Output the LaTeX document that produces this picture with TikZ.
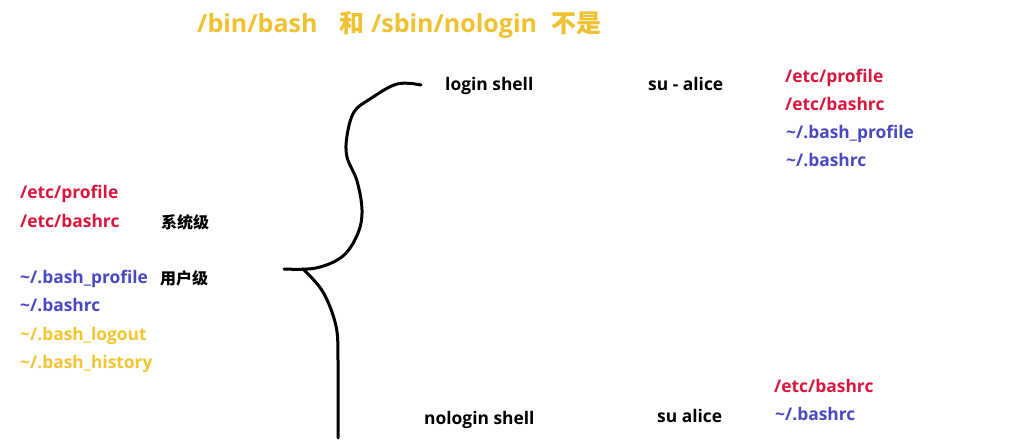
\documentclass[tikz,border=0pt]{standalone}
\usepackage{fontspec}
\setmainfont{Open Sans}
\newfontfamily\cjk{Noto Sans CJK SC}
\definecolor{cred}{HTML}{D8163E}
\definecolor{cblue}{HTML}{4A4AC0}
\definecolor{cyel}{HTML}{F2C531}
\definecolor{ctitle}{HTML}{F0C232}
\tikzset{
  lbl/.style={anchor=west,inner sep=0pt,font=\bfseries\fontsize{17.4}{20}\selectfont,text height=1.5ex,text depth=0pt,yshift=-2pt},
  red/.style={lbl,text=cred},
  blu/.style={lbl,text=cblue},
  yel/.style={lbl,text=cyel},
  blk/.style={lbl,text=black},
  zh/.style={anchor=west,inner sep=0pt,font=\cjk\bfseries\fontsize{16}{18}\selectfont,text=black,yshift=-1pt},
  brace/.style={line width=3pt,line cap=round,line join=round}
}
\begin{document}
\begin{tikzpicture}[x=1pt,y=-1pt]
\useasboundingbox[fill=white] (0,0) rectangle (1034,446);
% title
\node[anchor=west,inner sep=0pt,text=ctitle,font=\bfseries\fontsize{25}{29}\selectfont] (title) at (197,25)
  {/bin/bash\hspace{22pt}{\cjk\bfseries 和} /sbin/nologin\hspace{14pt}{\cjk\bfseries 不是}};
% left column
\node[red] (lp) at (20,192) {/etc/profile};
\node[red] (lb) at (20,221) {/etc/bashrc};
\node[zh] (sys) at (161,221) {系统级};
\node[blu] (lbp) at (20,277) {\textasciitilde/.bash\_profile};
\node[zh] (usr) at (160,277) {用户级};
\node[blu] (lbr) at (20,305) {\textasciitilde/.bashrc};
\node[yel] (llo) at (20,334) {\textasciitilde/.bash\_logout};
\node[yel] (lhi) at (20,362) {\textasciitilde/.bash\_history};
% login shell
\node[blk] (login) at (445,84) {login shell};
\node[blk] (sua) at (648,84) {su - alice};
\node[red] (rp) at (785,76) {/etc/profile};
\node[red] (rb) at (785,104) {/etc/bashrc};
\node[blu] (rbp) at (786,132) {\textasciitilde/.bash\_profile};
\node[blu] (rbr) at (786,160) {\textasciitilde/.bashrc};
% nologin shell
\node[blk] (nologin) at (424,418) {nologin shell};
\node[blk] (su) at (657,416) {su alice};
\node[red] (nb) at (774,386) {/etc/bashrc};
\node[blu] (nbr) at (775,414) {\textasciitilde/.bashrc};
% brace
\draw[brace] plot[smooth,tension=0.6] coordinates {(421,85) (397,84) (370,99) (354,112) (347,136) (347,157) (357,181) (362,210) (358,233) (343,256) (316,268) (284,269)};
\draw[brace] plot[smooth,tension=0.6] coordinates {(303,269) (323,292) (336,326) (338,360) (338,400) (338,438)};
\end{tikzpicture}
\end{document}
